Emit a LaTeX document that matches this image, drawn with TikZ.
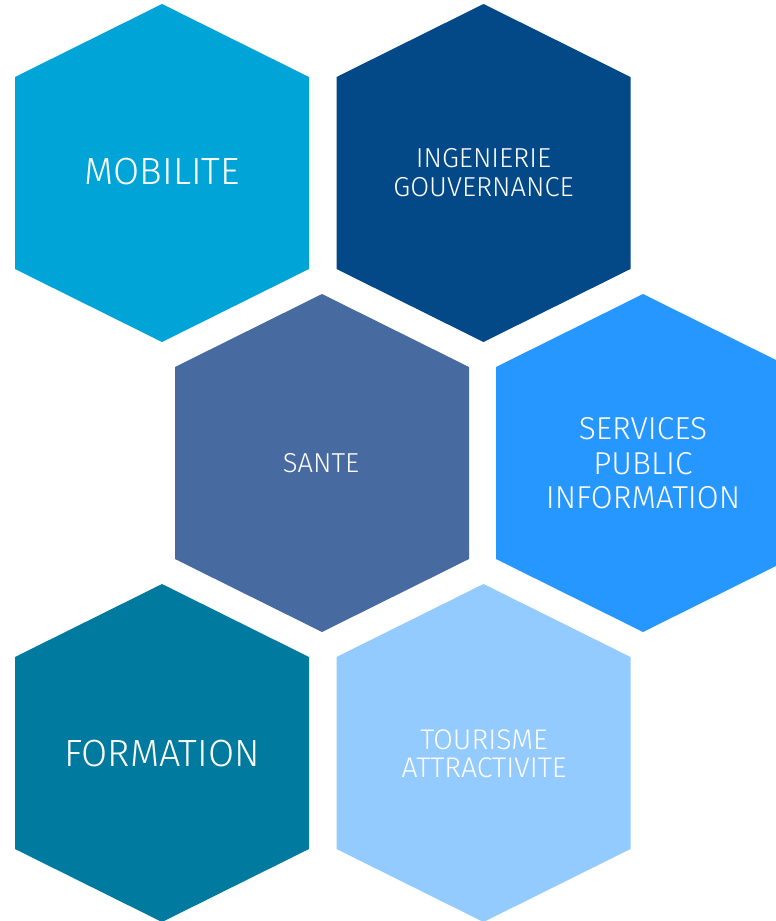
\documentclass[tikz,border=0pt]{standalone}
\usepackage{fontspec}
\setmainfont{Fira Sans}[UprightFont=* Light]
\definecolor{cMob}{RGB}{0,164,214}
\definecolor{cIng}{RGB}{3,73,135}
\definecolor{cSan}{RGB}{71,106,160}
\definecolor{cSer}{RGB}{38,151,255}
\definecolor{cFor}{RGB}{0,122,158}
\definecolor{cTou}{RGB}{148,203,255}
\newcommand\hexat[3]{%
  \fill[#3] (#1,#2) ++(0,-169) -- ++(147,73) -- ++(0,192) -- ++(-147,73) -- ++(-147,-73) -- ++(0,-192) -- cycle;}
\tikzset{
  lbl/.style={text=white, inner sep=0pt, anchor=center},
  big/.style={lbl, font=\fontsize{38}{40}\selectfont},
  mid/.style={lbl, font=\fontsize{31.8}{33}\selectfont},
  small/.style={lbl, font=\fontsize{27.5}{29}\selectfont},
  tsmall/.style={lbl, font=\fontsize{28.5}{30}\selectfont},
}
\begin{document}
\begin{tikzpicture}[x=1bp,y=-1bp]
\useasboundingbox (0,0) rectangle (776,921);
\clip (0,0) rectangle (776,921);
\fill[white] (0,0) rectangle (776,921);
\hexat{162}{173}{cMob}
\hexat{483.5}{173}{cIng}
\hexat{322}{463}{cSan}
\hexat{643}{463}{cSer}
\hexat{162}{753}{cFor}
\hexat{483.5}{753}{cTou}
\node[big] (mob) at (162.5,172) {MOBILITE};
\node[small] (ing1) at (483.5,158.5) {INGENIERIE};
\node[small] (ing2) at (483.5,187) {GOUVERNANCE};
\node[small] (san) at (321,463) {SANTE};
\node[mid] (ser1) at (643,429) {SERVICES};
\node[mid] (ser2) at (643,464) {PUBLIC};
\node[mid] (ser3) at (643,498) {INFORMATION};
\node[big] (for) at (162,754) {FORMATION};
\node[tsmall] (tou1) at (484,740) {TOURISME};
\node[tsmall] (tou2) at (484,768) {ATTRACTIVITE};
\end{tikzpicture}
\end{document}
